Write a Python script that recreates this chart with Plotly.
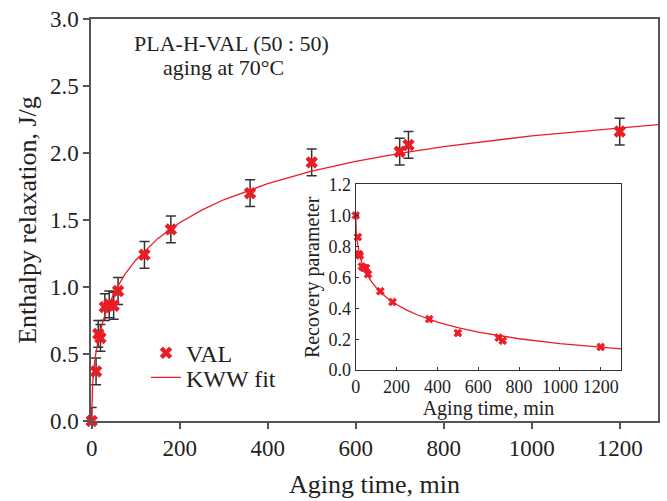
import plotly.graph_objects as go

# ---- data ----
aging_time = [0, 10, 15, 20, 30, 40, 50, 60, 120, 180, 360, 500, 700, 720, 1200]
enthalpy = [0.0, 0.37, 0.65, 0.62, 0.85, 0.87, 0.86, 0.97, 1.24, 1.43, 1.70, 1.93, 2.01, 2.06, 2.16]
enthalpy_err = [0.1] * 15
recovery = [1.00, 0.86, 0.75, 0.74, 0.67, 0.66, 0.66, 0.62, 0.51, 0.44, 0.33, 0.24, 0.21, 0.19, 0.15]

fit_time = [0, 0.5, 1, 2, 5, 10, 20, 30, 50, 75, 100, 150, 200, 250, 300, 400, 500,
            600, 700, 800, 1000, 1200, 1300]
fit_enthalpy = [0, 0.146, 0.198, 0.266, 0.391, 0.517, 0.678, 0.790, 0.950, 1.092, 1.200,
                1.361, 1.480, 1.574, 1.651, 1.771, 1.864, 1.937, 1.997, 2.048, 2.128, 2.190, 2.215]
fit_recovery = [1.0, 0.943, 0.923, 0.896, 0.848, 0.799, 0.736, 0.693, 0.630, 0.575, 0.533,
                0.470, 0.424, 0.388, 0.358, 0.311, 0.275, 0.246, 0.223, 0.203, 0.172, 0.148, 0.138]

main_xticks = [0, 200, 400, 600, 800, 1000, 1200]
main_yticks = [0.0, 0.5, 1.0, 1.5, 2.0, 2.5, 3.0]
inset_xticks = [0, 200, 400, 600, 800, 1000, 1200]
inset_yticks = [0.0, 0.2, 0.4, 0.6, 0.8, 1.0, 1.2]

RED = "#ec1c24"
DARK = "#333333"
AXIS = "#555555"
FONT = "Liberation Serif"

fig = go.Figure()

# error bars (clipped to plot)
fig.add_trace(go.Scatter(
    x=aging_time, y=enthalpy, mode="markers",
    marker=dict(size=1, opacity=0),
    error_y=dict(type="data", array=enthalpy_err, visible=True, color=DARK,
                 thickness=1.5, width=5),
    showlegend=False, hoverinfo="skip", cliponaxis=True,
))
# fit line
fig.add_trace(go.Scatter(
    x=fit_time, y=fit_enthalpy, mode="lines", name="KWW fit",
    line=dict(color=RED, width=1.3), legend="legend2",
))
# data markers
fig.add_trace(go.Scatter(
    x=aging_time, y=enthalpy, mode="markers", name="VAL",
    marker=dict(symbol="x", size=11, color=RED, line=dict(width=0)),
    cliponaxis=False, legend="legend",
))

# inset
fig.add_trace(go.Scatter(
    x=fit_time, y=fit_recovery, mode="lines", xaxis="x2", yaxis="y2",
    line=dict(color=RED, width=1.3), showlegend=False,
))
fig.add_trace(go.Scatter(
    x=aging_time, y=recovery, mode="markers", xaxis="x2", yaxis="y2",
    marker=dict(symbol="x", size=7, color=RED, line=dict(width=0.8, color=RED)),
    showlegend=False, cliponaxis=False,
))

axis_common = dict(showgrid=False, zeroline=False, showline=True, linecolor=AXIS,
                   linewidth=1.5, mirror=True, tickcolor=AXIS,
                   tickfont=dict(family=FONT, size=23, color="#222"))

fig.update_layout(
    width=667, height=501,
    margin=dict(l=91, r=7, t=15, b=77),
    paper_bgcolor="white", plot_bgcolor="white",
    font=dict(family=FONT, color="#222"),
    xaxis=dict(axis_common, range=[-1.5, 1287], tickvals=main_xticks,
               ticks="outside", ticklen=6, tickwidth=1.5,
               title=dict(text="Aging time, min", font=dict(family=FONT, size=26, color="#222"),
                          standoff=14)),
    yaxis=dict(axis_common, range=[0, 3.0], tickvals=main_yticks, tickformat=".1f",
               ticks="outside", ticklen=6, tickwidth=1.5,
               title=dict(text="Enthalpy relaxation, J/g", font=dict(family=FONT, size=26, color="#222"),
                          standoff=6)),
    xaxis2=dict(showgrid=False, zeroline=False, showline=True, linecolor=DARK, linewidth=1.3,
                mirror=True, domain=[0.467, 0.935], anchor="y2", range=[0, 1300],
                tickvals=inset_xticks, ticks="inside", ticklen=3, tickcolor=DARK,
                tickfont=dict(family=FONT, size=18, color="#222"),
                title=dict(text="Aging time, min", font=dict(family=FONT, size=20, color="#222"),
                           standoff=4)),
    yaxis2=dict(showgrid=False, zeroline=False, showline=True, linecolor=DARK, linewidth=1.3,
                mirror=True, domain=[0.1264, 0.5885], anchor="x2", range=[0, 1.2],
                tickvals=inset_yticks, tickformat=".1f", ticks="inside", ticklen=3, tickcolor=DARK,
                tickfont=dict(family=FONT, size=18, color="#222"),
                title=dict(text="Recovery parameter", font=dict(family=FONT, size=20, color="#222"),
                           standoff=3)),
    legend=dict(x=0.097, y=0.1687, xanchor="left", yanchor="middle",
                bgcolor="rgba(0,0,0,0)", font=dict(family=FONT, size=24, color="#222")),
    legend2=dict(x=0.097, y=0.1076, xanchor="left", yanchor="middle",
                 bgcolor="rgba(0,0,0,0)", font=dict(family=FONT, size=24, color="#222")),
    annotations=[
        dict(text="PLA-H-VAL (50 : 50)", x=0.2478, y=0.9389, xref="paper", yref="paper",
             xanchor="center", yanchor="middle",
             showarrow=False, font=dict(family=FONT, size=22, color="#222")),
        dict(text="aging at 70°C", x=0.2333, y=0.8802, xref="paper", yref="paper",
             xanchor="center", yanchor="middle",
             showarrow=False, font=dict(family=FONT, size=22, color="#222")),
    ],
)

fig.write_html("out.html")
